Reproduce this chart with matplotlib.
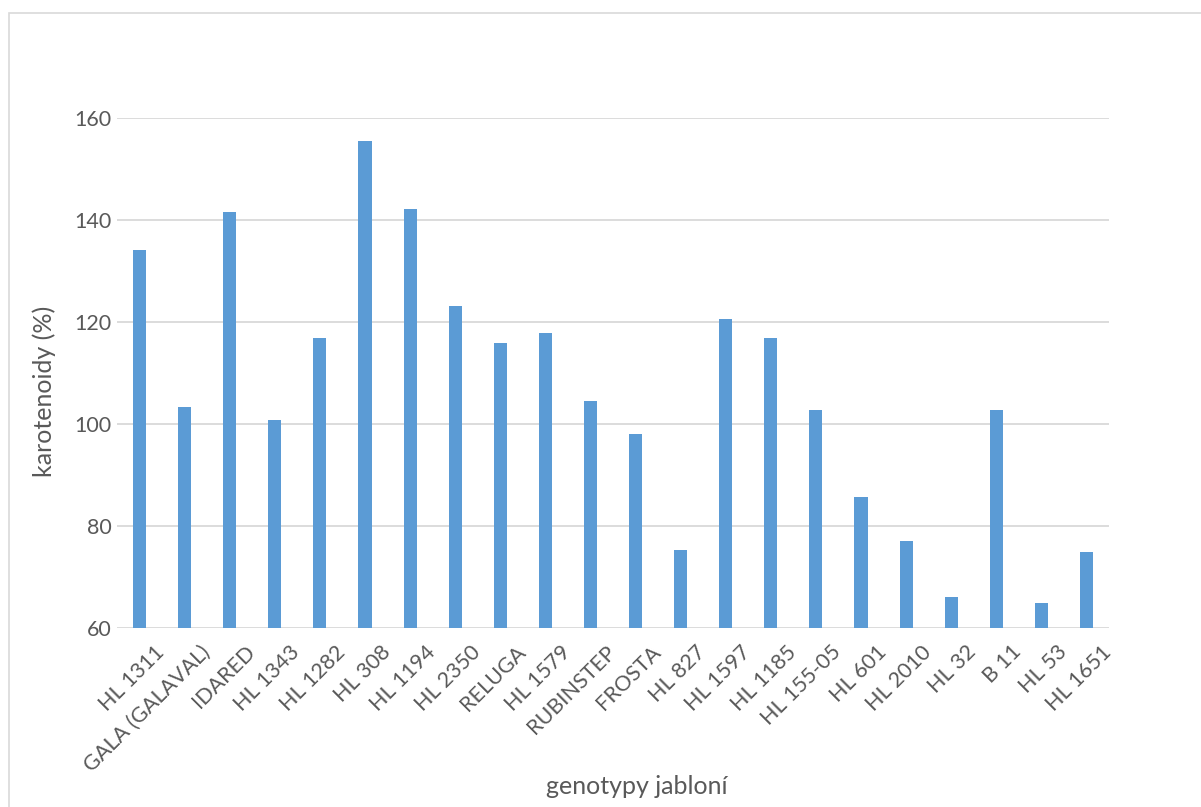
import matplotlib.pyplot as plt
import matplotlib.transforms as mtransforms
from matplotlib.patches import Rectangle

genotypes = ['HL 1311', 'GALA (GALAVAL)', 'IDARED', 'HL 1343', 'HL 1282', 'HL 308',
             'HL 1194', 'HL 2350', 'RELUGA', 'HL 1579', 'RUBINSTEP', 'FROSTA',
             'HL 827', 'HL 1597', 'HL 1185', 'HL 155-05', 'HL 601', 'HL 2010',
             'HL 32', 'B 11', 'HL 53', 'HL 1651']
karotenoidy = [134.1, 103.4, 141.6, 100.8, 116.9, 155.4,
               142.1, 123.1, 115.9, 117.9, 104.6, 98.0,
               75.3, 120.6, 116.9, 102.7, 85.7, 77.1,
               66.0, 102.7, 65.0, 75.0]
y_ticks = [60, 80, 100, 120, 140, 160]

plt.rcParams['font.family'] = ['Lato', 'DejaVu Sans']
text_color = '#595959'
grid_color = '#D9D9D9'

fig = plt.figure(figsize=(12.01, 8.07), dpi=100)
ax = fig.add_axes([117 / 1201, 1 - 628 / 807, (1109 - 117) / 1201, (628 - 118) / 807])

# ramecek grafu jako v excelu
fig.patches.append(Rectangle((9 / 1201, -0.1), 1.2, 1 - 13 / 807 + 0.1, transform=fig.transFigure,
                             fill=False, edgecolor=grid_color, linewidth=1.2, zorder=0))

x = range(len(genotypes))
ax.bar(x, [v - 60 for v in karotenoidy], bottom=60, width=0.29, color='#5B9BD5', zorder=3)

ax.set_xlim(-0.5, len(genotypes) - 0.5)
ax.set_ylim(60, 160)
ax.set_yticks(y_ticks)
ax.yaxis.grid(True, color=grid_color, linewidth=1.3, zorder=0)
for s in ax.spines.values():
    s.set_visible(False)
ax.tick_params(axis='both', length=0, colors=text_color, labelsize=15.5)
ax.tick_params(axis='y', pad=4)

ax.set_xticks(list(x))
offset = mtransforms.ScaledTranslation(15 / 100, -9 / 100, fig.dpi_scale_trans)
labels = ax.set_xticklabels(genotypes, rotation=45, ha='right', va='top', rotation_mode='anchor')
for lab in labels:
    lab.set_transform(lab.get_transform() + offset)

fig.text(44 / 1201, 1 - 391 / 807, 'karotenoidy (%)', fontsize=18, color=text_color,
         rotation=90, ha='center', va='center')
fig.text(637 / 1201, 1 - 786 / 807, 'genotypy jabloní', fontsize=18, color=text_color,
         ha='center', va='center')

fig.savefig('out.png', dpi=100)
